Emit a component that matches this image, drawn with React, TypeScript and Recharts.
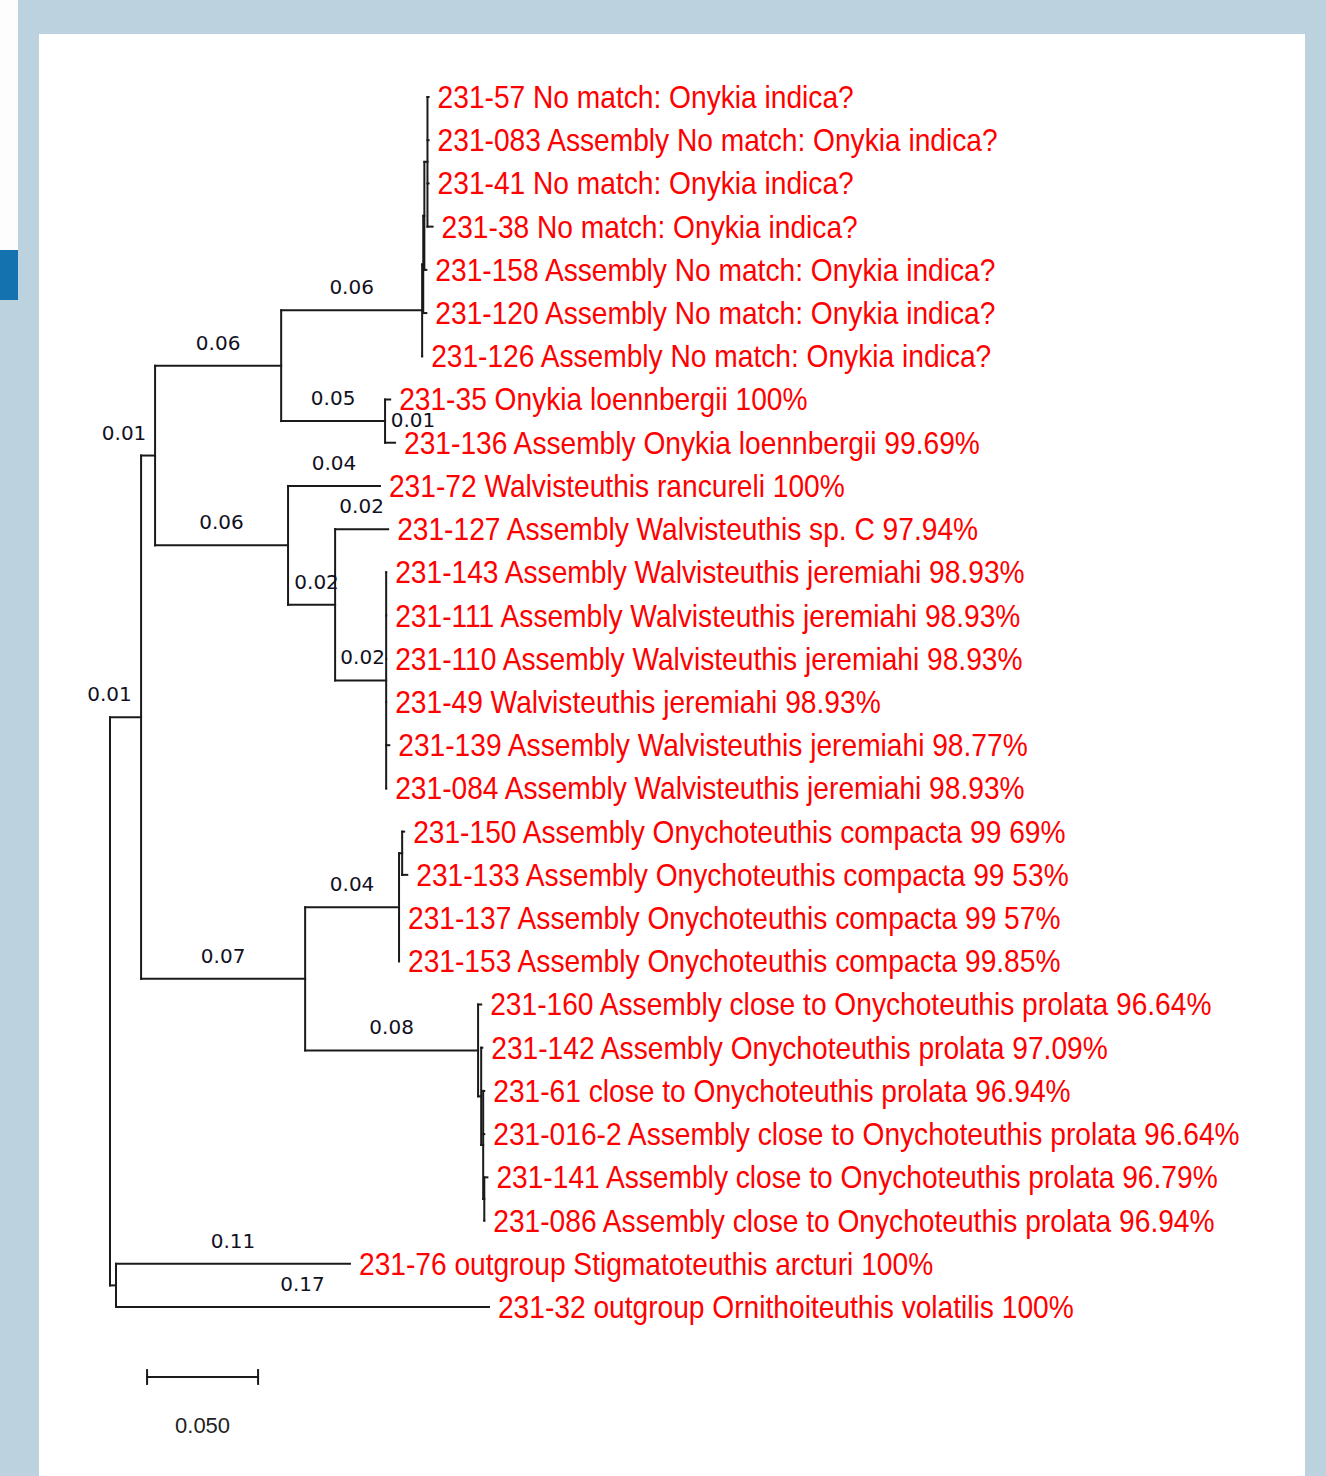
import React from 'react'
import { ReferenceLine, Scatter, ScatterChart, XAxis, YAxis } from 'recharts'

// leaves, top to bottom
const LEAVES = [
  '231-57 No match: Onykia indica?',
  '231-083 Assembly No match: Onykia indica?',
  '231-41 No match: Onykia indica?',
  '231-38 No match: Onykia indica?',
  '231-158 Assembly No match: Onykia indica?',
  '231-120 Assembly No match: Onykia indica?',
  '231-126 Assembly No match: Onykia indica?',
  '231-35 Onykia loennbergii 100%',
  '231-136 Assembly Onykia loennbergii 99.69%',
  '231-72 Walvisteuthis rancureli 100%',
  '231-127 Assembly Walvisteuthis sp. C 97.94%',
  '231-143 Assembly Walvisteuthis jeremiahi 98.93%',
  '231-111 Assembly Walvisteuthis jeremiahi 98.93%',
  '231-110 Assembly Walvisteuthis jeremiahi 98.93%',
  '231-49 Walvisteuthis jeremiahi 98.93%',
  '231-139 Assembly Walvisteuthis jeremiahi 98.77%',
  '231-084 Assembly Walvisteuthis jeremiahi 98.93%',
  '231-150 Assembly Onychoteuthis compacta 99 69%',
  '231-133 Assembly Onychoteuthis compacta 99 53%',
  '231-137 Assembly Onychoteuthis compacta 99 57%',
  '231-153 Assembly Onychoteuthis compacta 99.85%',
  '231-160 Assembly close to Onychoteuthis prolata 96.64%',
  '231-142 Assembly Onychoteuthis prolata 97.09%',
  '231-61 close to Onychoteuthis prolata 96.94%',
  '231-016-2 Assembly close to Onychoteuthis prolata 96.64%',
  '231-141 Assembly close to Onychoteuthis prolata 96.79%',
  '231-086 Assembly close to Onychoteuthis prolata 96.94%',
  '231-76 outgroup Stigmatoteuthis arcturi 100%',
  '231-32 outgroup Ornithoiteuthis volatilis 100%',
]
const LEAF_PARENT = [
  'F3', 'F3', 'F3', 'F3', 'F2', 'F1', 'F',
  'G', 'G',
  'E', 'E2',
  'J', 'J', 'J', 'J', 'J', 'J',
  'K1', 'K1', 'K', 'K',
  'P', 'P1', 'P2', 'P2', 'P3', 'P3',
  'out', 'out',
]
const LEAF_BRANCH = [
  0.0005, 0.0005, 0.0005, 0.0023, 0.0009, 0.0014, 0,
  0.0023, 0.0045,
  0.0414, 0.0239,
  0, 0, 0, 0, 0.0014, 0,
  0.0009, 0.0023, 0, 0,
  0.0014, 0.0005, 0.0005, 0.0005, 0.0014, 0,
  0.1054, 0.168,
]

// internal nodes
const NODES = ['root', 'in', 'out', 'B', 'C', 'D', 'E', 'F', 'G', 'F1', 'F2', 'F3', 'E2', 'J', 'K', 'K1', 'P', 'P1', 'P2', 'P3']
const NODE_PARENT = [null, 'root', 'root', 'in', 'in', 'B', 'B', 'D', 'D', 'F', 'F1', 'F2', 'E', 'E2', 'C', 'K', 'C', 'P', 'P1', 'P2']
const NODE_BRANCH = [0, 0.014, 0.0027, 0.0063, 0.0739, 0.0568, 0.0599, 0.0635, 0.0468, 0.0005, 0.0005, 0.0014, 0.0212, 0.023, 0.0423, 0.0014, 0.0779, 0.0014, 0.0009, 0.0005]

// branch length labels
const BRANCH_LABEL_AT = ['in', 'B', 'D', 'F', 'G', '231-136', 'E', '231-72', 'E2', '231-127', 'J', 'C', 'K', 'P', '231-76', '231-32']
const BRANCH_LABEL_TEXT = ['0.01', '0.01', '0.06', '0.06', '0.05', '0.01', '0.06', '0.04', '0.02', '0.02', '0.02', '0.07', '0.04', '0.08', '0.11', '0.17']

const SCALE_LENGTH = 0.05
const SCALE_LABEL = '0.050'

// layout
const W = 1326
const H = 1476
const PX_PER_UNIT = 2220
const ROOT_PX = 110
const ROW0_PX = 97
const ROW_PX = 43.214
const LABEL_NUDGE: Record<string, number> = { in: -16, B: -24, '231-136': 23, E2: 5, J: 2 }
const SCALE_X = 0.0167
const SCALE_ROW = 29.62
const SCALE_TEXT_ROW = 30.73
const TICK = 0.16

const leafIds = LEAVES.map((n) => n.split(' ')[0])
const parentOf = new Map<string, string | null>()
const branchOf = new Map<string, number>()
NODES.forEach((id, i) => {
  parentOf.set(id, NODE_PARENT[i])
  branchOf.set(id, NODE_BRANCH[i])
})
leafIds.forEach((id, i) => {
  parentOf.set(id, LEAF_PARENT[i])
  branchOf.set(id, LEAF_BRANCH[i])
})
const kids = new Map<string, string[]>()
for (const [id, p] of parentOf) {
  if (!p) continue
  const arr = kids.get(p) ?? []
  arr.push(id)
  kids.set(p, arr)
}

function xOf(id: string): number {
  let x = 0
  let cur: string | null | undefined = id
  while (cur) {
    x += branchOf.get(cur) ?? 0
    cur = parentOf.get(cur)
  }
  return x
}

const yMemo = new Map<string, number>()
function yOf(id: string): number {
  if (yMemo.has(id)) return yMemo.get(id)!
  const li = leafIds.indexOf(id)
  let y: number
  if (li >= 0) y = li
  else {
    const ys = (kids.get(id) ?? []).map(yOf)
    y = (Math.min(...ys) + Math.max(...ys)) / 2
  }
  yMemo.set(id, y)
  return y
}

type Seg = [{ x: number; y: number }, { x: number; y: number }]
const segments: Seg[] = []
for (const [id, p] of parentOf) {
  if (!p) continue
  const y = yOf(id)
  segments.push([{ x: xOf(p), y }, { x: xOf(id), y }])
}
for (const id of NODES) {
  const ys = (kids.get(id) ?? []).map(yOf)
  const x = xOf(id)
  segments.push([{ x, y: Math.min(...ys) }, { x, y: Math.max(...ys) }])
}
// scale bar
const sx0 = SCALE_X
const sx1 = SCALE_X + SCALE_LENGTH
segments.push([{ x: sx0, y: SCALE_ROW }, { x: sx1, y: SCALE_ROW }])
segments.push([{ x: sx0, y: SCALE_ROW - TICK }, { x: sx0, y: SCALE_ROW + TICK }])
segments.push([{ x: sx1, y: SCALE_ROW - TICK }, { x: sx1, y: SCALE_ROW + TICK }])

const leafPoints = leafIds.map((id, i) => ({ x: xOf(id), y: i, name: LEAVES[i] }))
const branchPoints = BRANCH_LABEL_AT.map((id, i) => ({
  x: (xOf(parentOf.get(id) as string) + xOf(id)) / 2,
  y: yOf(id),
  text: BRANCH_LABEL_TEXT[i],
  nudge: LABEL_NUDGE[id] ?? 0,
}))
const scalePoints = [{ x: (sx0 + sx1) / 2, y: SCALE_TEXT_ROW, text: SCALE_LABEL }]

const LEAF_FONT = "'Liberation Sans', Arial, sans-serif"
const NUM_FONT = "'DejaVu Sans', Verdana, sans-serif"

const LeafLabel = (p: any) => (
  <text
    transform={`translate(${p.cx + 9} ${p.cy + 11}) scale(0.88 1)`}
    fill="#ff0000"
    fontSize={32}
    fontFamily={LEAF_FONT}
  >
    {p.payload.name}
  </text>
)

const BranchLabel = (p: any) => (
  <text
    x={p.cx + p.payload.nudge}
    y={p.cy - 16}
    textAnchor="middle"
    fill="#111122"
    fontSize={20}
    fontFamily={NUM_FONT}
  >
    {p.payload.text}
  </text>
)

const ScaleLabel = (p: any) => (
  <text x={p.cx} y={p.cy + 8} textAnchor="middle" fill="#222" fontSize={22} fontFamily={LEAF_FONT}>
    {p.payload.text}
  </text>
)

export default function App() {
  return (
    <div style={{ position: 'absolute', left: 0, top: 0, width: W, height: H, background: '#bcd2df', overflow: 'hidden' }}>
      <div style={{ position: 'absolute', left: 0, top: 0, width: 18, height: 250, background: '#fdfdfd' }} />
      <div style={{ position: 'absolute', left: 0, top: 250, width: 18, height: 50, background: '#1473ae' }} />
      <div style={{ position: 'absolute', left: 39, top: 34, width: 1266, height: H - 34, background: '#ffffff' }} />
      <div style={{ position: 'absolute', left: 0, top: 0 }}>
        <ScatterChart width={W} height={H} margin={{ top: 0, right: 0, bottom: 0, left: 0 }}>
          <XAxis
            dataKey="x"
            type="number"
            hide
            allowDataOverflow
            domain={[-ROOT_PX / PX_PER_UNIT, (W - ROOT_PX) / PX_PER_UNIT]}
          />
          <YAxis
            dataKey="y"
            type="number"
            hide
            reversed
            allowDataOverflow
            domain={[-ROW0_PX / ROW_PX, (H - ROW0_PX) / ROW_PX]}
          />
          {segments.map((s, i) => (
            <ReferenceLine
              key={i}
              segment={s}
              stroke="#1a1a1a"
              strokeWidth={2}
              strokeLinecap="square"
              ifOverflow="visible"
            />
          ))}
          <Scatter data={leafPoints} shape={LeafLabel} isAnimationActive={false} />
          <Scatter data={branchPoints} shape={BranchLabel} isAnimationActive={false} />
          <Scatter data={scalePoints} shape={ScaleLabel} isAnimationActive={false} />
        </ScatterChart>
      </div>
    </div>
  )
}
